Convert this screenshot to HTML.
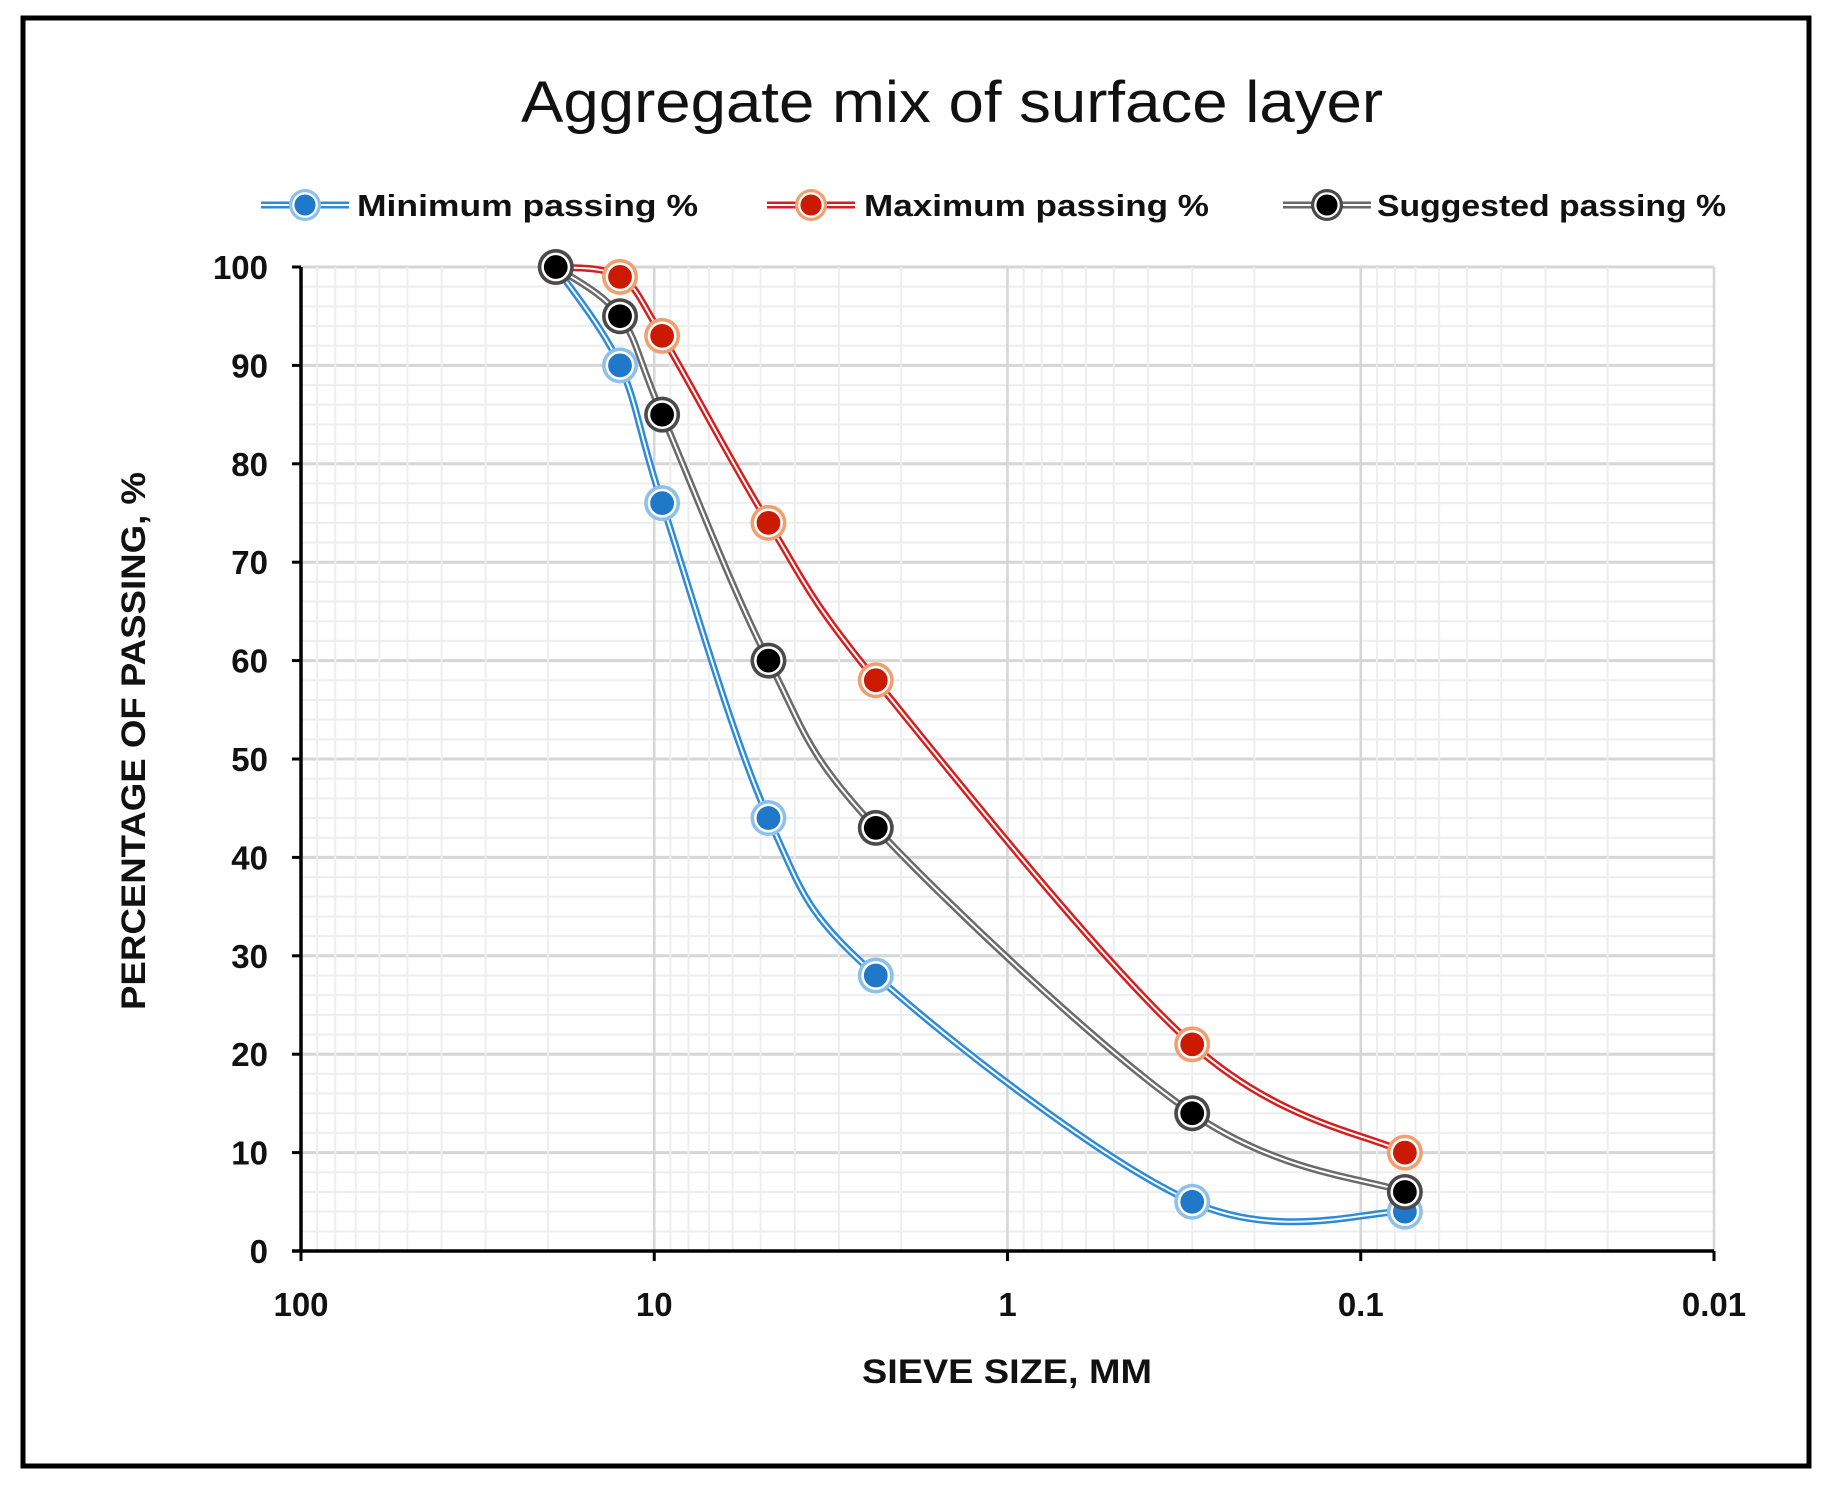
<!DOCTYPE html>
<html><head><meta charset="utf-8"><style>
html,body{margin:0;padding:0;background:#fff;}
svg{display:block;}
text{font-family:"Liberation Sans",sans-serif;}
</style></head><body>
<svg id="chart" width="1831" height="1487" viewBox="0 0 1831 1487">
<rect x="23" y="18" width="1786" height="1448" fill="#fff" stroke="#000" stroke-width="5"/>
<text x="952" y="122" font-size="58" text-anchor="middle" fill="#111" textLength="862" lengthAdjust="spacingAndGlyphs">Aggregate mix of surface layer</text>
<g id="grid"></g>
<g id="axes"></g>
<g id="series"></g>
<g id="legend"></g>
<text x="1007" y="1383" font-size="34" font-weight="bold" text-anchor="middle" fill="#111" textLength="290" lengthAdjust="spacingAndGlyphs">SIEVE SIZE, MM</text>
<text transform="translate(145,741) rotate(-90)" font-size="34" font-weight="bold" text-anchor="middle" fill="#111" textLength="538" lengthAdjust="spacingAndGlyphs">PERCENTAGE OF PASSING, %</text>
</svg>
<script>
const sieveSizes = [19, 12.5, 9.5, 4.75, 2.36, 0.3, 0.075];
const minPassing = [100, 90, 76, 44, 28, 5, 4];
const maxPassing = [100, 99, 93, 74, 58, 21, 10];
const suggestedPassing = [100, 95, 85, 60, 43, 14, 6];
const seriesNames = ["Minimum passing %", "Maximum passing %", "Suggested passing %"];
const xTickLabels = ["100", "10", "1", "0.1", "0.01"];
const xTickValues = [100, 10, 1, 0.1, 0.01];
const yTickValues = [0, 10, 20, 30, 40, 50, 60, 70, 80, 90, 100];

const NS = "http://www.w3.org/2000/svg";
const X0 = 301, X1 = 1714, Y0 = 1251, Y1 = 267;
const decade = (X1 - X0) / 4;
function xs(v){ return X0 + Math.log10(100 / v) * decade; }
function ys(v){ return Y0 - (v / 100) * (Y0 - Y1); }
function mk(tag, attrs, parent){
  const e = document.createElementNS(NS, tag);
  for (const k in attrs) e.setAttribute(k, attrs[k]);
  parent.appendChild(e); return e;
}
const grid = document.getElementById('grid');
const axes = document.getElementById('axes');
const series = document.getElementById('series');
const legend = document.getElementById('legend');

for (let v = 0; v <= 100; v += 2) {
  const l = mk('line', {x1:X0, x2:X1, y1:ys(v), y2:ys(v), stroke: v % 10 === 0 ? '#d6d6d6' : '#eeeeee', 'stroke-width': v % 10 === 0 ? 3 : 2}, grid);
  
  
}
for (let d = 0; d < 4; d++) {
  const base = 100 / Math.pow(10, d);
  for (let m = 2; m <= 9; m++) {
    const v = base * m / 10;
    const l = mk('line', {x1:xs(v), x2:xs(v), y1:Y1, y2:Y0, stroke:'#eeeeee', 'stroke-width':2}, grid);
    
    
  }
}
xTickValues.forEach(v => {
  const l = mk('line', {x1:xs(v), x2:xs(v), y1:Y1, y2:Y0, stroke:'#d6d6d6', 'stroke-width':2.5}, grid);
  
  
});
const ya = mk('line', {x1:X0, x2:X0, y1:Y1, y2:Y0, stroke:'#000', 'stroke-width':3.5}, axes);


const xa = mk('line', {x1:X0-9, x2:X1, y1:Y0, y2:Y0, stroke:'#000', 'stroke-width':3.5}, axes);


yTickValues.forEach(v => {
  mk('line', {x1:X0-9, x2:X0, y1:ys(v), y2:ys(v), stroke:'#000', 'stroke-width':3}, axes);
  const t = mk('text', {x:X0-33, y:ys(v)+12, 'font-size':33, 'font-weight':'bold', 'text-anchor':'end', fill:'#111'}, axes);
  t.textContent = v;
  
  
});
xTickValues.forEach((v, i) => {
  mk('line', {x1:xs(v), x2:xs(v), y1:Y0, y2:Y0+10, stroke:'#000', 'stroke-width':3}, axes);
  const t = mk('text', {x:xs(v), y:Y0+65, 'font-size':33, 'font-weight':'bold', 'text-anchor':'middle', fill:'#111'}, axes);
  t.textContent = xTickLabels[i];
  
  
});

function smoothPath(pts){
  let d = `M${pts[0][0]},${pts[0][1]}`;
  for (let i = 0; i < pts.length - 1; i++) {
    const p0 = pts[Math.max(i-1,0)], p1 = pts[i], p2 = pts[i+1], p3 = pts[Math.min(i+2, pts.length-1)];
    const c1 = [p1[0] + (p2[0]-p0[0])/6, p1[1] + (p2[1]-p0[1])/6];
    const c2 = [p2[0] - (p3[0]-p1[0])/6, p2[1] - (p3[1]-p1[1])/6];
    d += ` C${c1[0]},${c1[1]} ${c2[0]},${c2[1]} ${p2[0]},${p2[1]}`;
  }
  return d;
}
const styles = [
  {line:'#2e8bd9', outer:'#8fc0ea', inner:'#1f78c8', key:'min'},
  {line:'#d42020', outer:'#f0a070', inner:'#cc1a00', key:'max'},
  {line:'#6a6a6a', outer:'#4a4a4a', inner:'#000000', key:'suggested'}
];
const allData = [minPassing, maxPassing, suggestedPassing];
function marker(g, x, y, s, r){
  mk('circle', {cx:x, cy:y, r:r, fill:s.outer}, g);
  mk('circle', {cx:x, cy:y, r:r*0.8, fill:'#fff'}, g);
  mk('circle', {cx:x, cy:y, r:r*0.66, fill:s.inner}, g);
}
allData.forEach((data, si) => {
  const s = styles[si];
  const g = mk('g', {}, series);
  
  
  const pts = sieveSizes.map((v, i) => [xs(v), ys(data[i])]);
  const d = smoothPath(pts);
  mk('path', {d:d, fill:'none', stroke:s.line, 'stroke-width':7}, g);
  mk('path', {d:d, fill:'none', stroke:'#fff', 'stroke-width':2}, g);
  pts.forEach(p => {
    const mg = mk('g', {}, g);
    
    
    marker(mg, p[0], p[1], s, 18);
  });
});
const legX = [261, 767, 1283];
const legTextX = [357, 864, 1377];
const legW = [341, 345, 349];
seriesNames.forEach((n, i) => {
  const s = styles[i];
  const g = mk('g', {}, legend);
  
  
  const y = 205;
  mk('line', {x1:legX[i], x2:legX[i]+88, y1:y, y2:y, stroke:s.line, 'stroke-width':7}, g);
  mk('line', {x1:legX[i], x2:legX[i]+88, y1:y, y2:y, stroke:'#fff', 'stroke-width':2}, g);
  marker(g, legX[i]+44, y, s, 16);
  const t = mk('text', {x:legTextX[i], y:y+11, 'font-size':31, 'font-weight':'bold', fill:'#111', textLength:legW[i], lengthAdjust:'spacingAndGlyphs'}, g);
  t.textContent = n;
});
</script>
</body></html>
